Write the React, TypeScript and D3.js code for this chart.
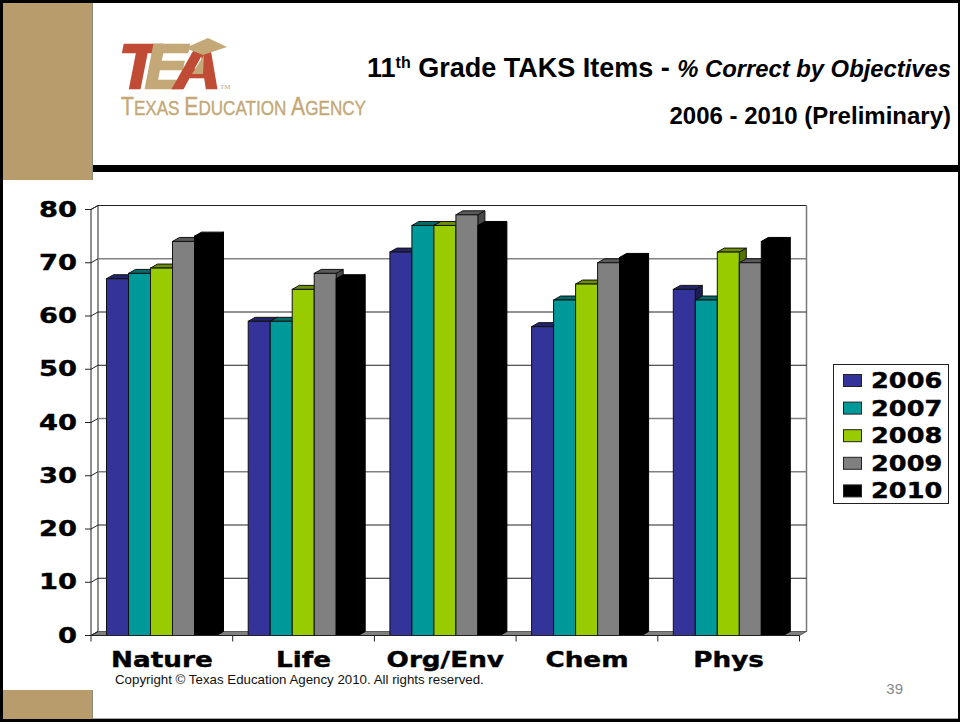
import React from 'react';
import * as d3 from 'd3';

const categories = ['Nature', 'Life', 'Org/Env', 'Chem', 'Phys'];
const years = ['2006', '2007', '2008', '2009', '2010'];
const yTicks = [0, 10, 20, 30, 40, 50, 60, 70, 80];
// these gridlines come out lighter and thicker in the original
const softGridTicks = [30, 40, 70];

const values2006 = [67, 59, 72, 58, 65];
const values2007 = [68, 59, 77, 63, 63];
const values2008 = [69, 65, 77, 66, 72];
const values2009 = [74, 68, 79, 70, 70];
const values2010 = [75, 67, 77, 71, 74];
const seriesValues = [values2006, values2007, values2008, values2009, values2010];

const colors = ['#333399', '#009999', '#99cc00', '#808080', '#000000'];
const tan = '#b89c6c';
const logoTan = '#c4a877';
const logoRed = '#c04c36';

// fake 3d offset of the back wall
const dx = 7;
const dy = -4;

// DejaVu Bold is narrower than the chart's font, so stretch it sideways
const Wide = ({ x, y, anchor, size, sx, children }: any) => (
  <text
    transform={`translate(${x},${y}) scale(${sx},1)`}
    textAnchor={anchor}
    fontFamily="DejaVu Sans"
    fontWeight="bold"
    fontSize={size}
    stroke="#000"
    strokeWidth={0.4}
  >
    {children}
  </text>
);

const App = () => {
  const x = d3.scaleBand().domain(categories).range([91, 799.5]);
  const y = d3.scaleLinear().domain([0, 80]).range([635.5, 209.5]);
  const inner = d3.scaleBand().domain(years).range([15.5, 125.5]);

  const topColor = (c: string) => d3.color(c)!.darker(1).formatHex();
  const sideColor = (c: string) => d3.color(c)!.darker(1.6).formatHex();

  return (
    <svg width={960} height={724} style={{ position: 'absolute', left: 0, top: 0, background: '#fff' }}>
      {/* slide frame */}
      <rect x={3} y={3} width={89} height={177} fill={tan} />
      <line x1={92.5} x2={92.5} y1={3} y2={180} stroke="#8a8a7a" />
      <rect x={3} y={690} width={89} height={29} fill={tan} />
      <line x1={92.5} x2={92.5} y1={690} y2={719} stroke="#8a8a7a" />
      <rect x={93} y={165} width={867} height={7} fill="#000" />
      <rect x={0} y={0} width={960} height={3} fill="#000" />
      <rect x={0} y={0} width={3} height={722} fill="#000" />
      <rect x={958} y={0} width={2} height={722} fill="#000" />
      <rect x={93} y={718} width={865} height={1} fill="#aaa" />
      <rect x={0} y={719} width={960} height={3} fill="#000" />

      {/* logo */}
      <g fontFamily="Liberation Sans" fontWeight="bold" fontStyle="italic" fontSize={63} strokeWidth={2.6}>
        <text x={119} y={88} fill={logoRed} stroke={logoRed}>T</text>
        <text x={145} y={88} fill={logoTan} stroke={logoTan}>E</text>
        <text x={175} y={88} fill={logoRed} stroke={logoRed}>A</text>
      </g>
      <polygon points="204,55 203,74 192,74" fill={logoTan} />
      <polygon points="185,48 208,38 227,47 203,55" fill={logoTan} />
      <text x={220} y={89} fontFamily="Liberation Serif" fontSize={7} fill={logoTan}>TM</text>
      <text x={121} y={115} fontFamily="Liberation Sans" fontSize={26} fill={logoTan} stroke={logoTan} strokeWidth={0.4} textLength={245} lengthAdjust="spacingAndGlyphs">T<tspan fontSize={21}>EXAS </tspan>E<tspan fontSize={21}>DUCATION </tspan>A<tspan fontSize={21}>GENCY</tspan></text>

      {/* title */}
      <text x={951} y={77} textAnchor="end" fontFamily="Liberation Sans" fontWeight="bold" fontSize={27}>
        11<tspan fontSize={16} dy={-9}>th</tspan><tspan dy={9}> Grade TAKS Items - </tspan><tspan fontStyle="italic" fontSize={23.8}>% Correct by Objectives</tspan>
      </text>
      <text x={951} y={124} textAnchor="end" fontFamily="Liberation Sans" fontWeight="bold" fontSize={24}>2006 - 2010 (Preliminary)</text>

      {/* walls */}
      <rect x={91 + dx} y={y(80) + dy} width={708.5} height={y(0) - y(80)} fill="#fff" stroke="none" />
      <line x1={91 + dx} x2={799.5 + dx} y1={y(80) + dy} y2={y(80) + dy} stroke="#222" />
      <line x1={799.5 + dx} x2={799.5 + dx} y1={y(80) + dy} y2={y(0) + dy} stroke="#777" strokeWidth={1.5} />
      <polygon points={`${91},${y(0)} ${91 + dx},${y(0) + dy} ${91 + dx},${y(80) + dy} ${91},${y(80)}`} fill="#fff" stroke="#222" />
      <polygon points={`${91},${y(0)} ${91 + dx},${y(0) + dy} ${799.5 + dx},${y(0) + dy} ${799.5},${y(0)}`} fill="#808080" stroke="#333" strokeWidth={0.7} />

      {yTicks.map((t) => {
        const soft = softGridTicks.includes(t);
        return (
          <g key={t}>
            {t > 0 && t < 80 && (
              <line
                x1={91 + dx}
                x2={799.5 + dx}
                y1={y(t) + dy}
                y2={y(t) + dy}
                stroke={soft ? '#808080' : '#222'}
                strokeWidth={soft ? 1.5 : 1}
              />
            )}
            <line x1={91} x2={91 + dx} y1={y(t)} y2={y(t) + dy} stroke="#222" />
            <line x1={85} x2={91} y1={y(t)} y2={y(t)} stroke="#222" />
            <Wide x={77} y={y(t) + 7} anchor="end" size={21} sx={1.3}>{t}</Wide>
          </g>
        );
      })}

      {/* bars, back to front is left to right */}
      {categories.map((cat, ci) =>
        years.map((yr, si) => {
          const v = seriesValues[si][ci];
          const bx = x(cat)! + inner(yr)!;
          const w = inner.bandwidth();
          const top = y(v);
          const c = colors[si];
          return (
            <g key={cat + yr} stroke={si === 4 ? '#000' : '#111'} strokeWidth={1}>
              <polygon points={`${bx + w},${top} ${bx + w + dx},${top + dy} ${bx + w + dx},${y(0) + dy} ${bx + w},${y(0)}`} fill={si === 4 ? '#000' : sideColor(c)} />
              <polygon points={`${bx},${top} ${bx + dx},${top + dy} ${bx + w + dx},${top + dy} ${bx + w},${top}`} fill={si === 4 ? '#000' : topColor(c)} />
              <rect x={bx} y={top} width={w} height={y(0) - top} fill={c} />
            </g>
          );
        })
      )}

      {/* x axis */}
      <line x1={91} x2={799.5} y1={y(0)} y2={y(0)} stroke="#222" />
      {[...categories.map((c) => x(c)!), 799.5].map((tx) => (
        <line key={tx} x1={tx} x2={tx} y1={y(0)} y2={y(0) + 6} stroke="#222" />
      ))}
      {categories.map((c) => (
        <Wide key={c} x={x(c)! + x.bandwidth() / 2} y={667} anchor="middle" size={21} sx={1.25}>{c}</Wide>
      ))}

      {/* legend */}
      <rect x={833.5} y={364.5} width={115} height={139} fill="#fff" stroke="#222" />
      {years.map((yr, i) => (
        <g key={yr}>
          <rect x={843.5} y={374.5 + i * 27.6} width={18} height={12} fill={colors[i]} stroke="#222" />
          <Wide x={871} y={388 + i * 27.6} anchor="start" size={21} sx={1.22}>{yr}</Wide>
        </g>
      ))}

      {/* footer */}
      <text x={115} y={684} fontFamily="Liberation Sans" fontSize={13.3} fill="#111">Copyright © Texas Education Agency 2010. All rights reserved.</text>
      <text x={903} y={694} textAnchor="end" fontFamily="Liberation Sans" fontSize={15} fill="#888">39</text>
    </svg>
  );
};

export default App;
